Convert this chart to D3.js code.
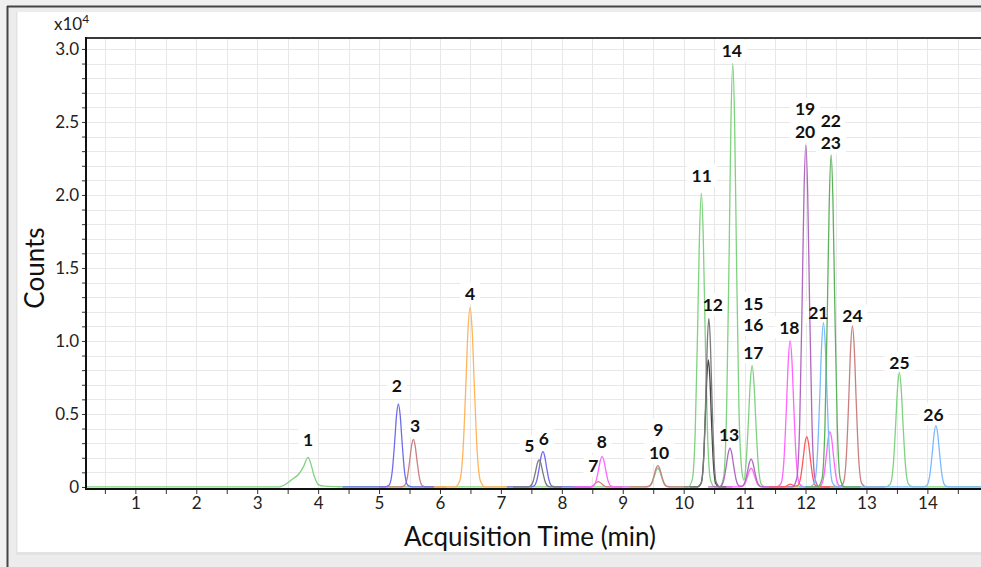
<!DOCTYPE html>
<html><head><meta charset="utf-8">
<script src="https://cdn.jsdelivr.net/npm/d3@7"></script>
<style>body{margin:0;background:#f0f0f0;overflow:hidden}svg{display:block}</style>
</head><body><svg id="c" width="981" height="567"></svg>
<script>
// ---------- data ----------
const xDomain = [0.19, 14.88];
const yDomain = [-140, 30750];
const xTickValues = d3.range(1, 30).map(i => i * 0.5);          // 0.5 .. 14.5
const xTickLabels = [1,2,3,4,5,6,7,8,9,10,11,12,13,14];
const yTickValues = d3.range(0, 31).map(i => i * 1000);          // 0 .. 30000
const yTickLabels = ["0","0.5","1.0","1.5","2.0","2.5","3.0"];
const yLabelledValues = [0,5000,10000,15000,20000,25000,30000];

// traces: segments of [time(min), counts]
const lightGreen = [[
 [0.19,0],[3.35,0],[3.49,250],[3.60,600],[3.68,870],[3.76,1390],[3.835,2030],[3.88,1600],[3.93,820],[4.01,140],[4.10,50],[4.35,15],[4.45,0],
 [9.356,0],[9.426,31],[9.476,246],[9.516,705],[9.546,1103],[9.576,1280],[9.606,1103],[9.636,705],[9.676,246],[9.726,31],[9.796,0],
 [10.07,0],[10.14,483],[10.19,3862],[10.23,11083],[10.26,17339],[10.29,20115],[10.32,17339],[10.35,11083],[10.39,3862],[10.44,483],[10.51,0],
 [10.586,0],[10.656,696],[10.706,5572],[10.746,15990],[10.776,25015],[10.806,29020],[10.836,25015],[10.866,15990],[10.906,5572],[10.956,1050],[10.99,470],
 [11.023,1600],[11.063,4580],[11.093,7160],[11.123,8310],[11.153,7160],[11.183,4580],[11.223,1600],[11.273,200],[11.343,0],
 [13.32,0],[13.39,188],[13.44,1503],[13.48,4314],[13.51,6749],[13.54,7830],[13.57,6749],[13.60,4314],[13.64,1503],[13.69,188],[13.76,0],[14.88,0]
]];
const brown = [
 [[5.0,0],[5.343,0],[5.413,78],[5.463,627],[5.503,1799],[5.533,2814],[5.563,3265],[5.593,2814],[5.623,1799],[5.663,627],[5.713,78],[5.783,0],[6.1,0]],
 [[8.2,0],[8.38,0],[8.45,9],[8.50,69],[8.54,198],[8.57,310],[8.60,360],[8.63,310],[8.66,198],[8.70,69],[8.75,9],[8.82,0],[9.0,0]],
 [[9.1,0],[9.356,0],[9.426,35],[9.476,280],[9.516,804],[9.546,1259],[9.576,1460],[9.606,1259],[9.636,804],[9.676,280],[9.726,35],[9.796,0],[10.0,0]],
 [[12.3,0],[12.55,0],[12.62,265],[12.67,2118],[12.71,6078],[12.74,9508],[12.77,11030],[12.80,9508],[12.83,6078],[12.87,2118],[12.92,265],[12.99,0],[13.3,0]]
];
const blue = [
 [[4.4,0],[5.097,0],[5.167,136],[5.217,1092],[5.257,3132],[5.287,4900],[5.317,5685],[5.347,4900],[5.377,3132],[5.417,1092],[5.467,136],[5.537,0],[5.9,0]],
 [[7.1,0],[7.47,0],[7.54,58],[7.59,465],[7.63,1333],[7.66,2086],[7.69,2420],[7.72,2086],[7.75,1333],[7.79,465],[7.84,58],[7.91,0],[8.5,0]]
];
const orange = [
 [[5.9,0],[6.244,0],[6.324,406],[6.379,2573],[6.424,6894],[6.459,10648],[6.494,12310],[6.529,10648],[6.564,6894],[6.609,2573],[6.664,406],[6.744,0],[7.1,0]]
];
const gray = [
 [[7.2,0],[7.407,0],[7.477,44],[7.527,355],[7.567,1019],[7.597,1595],[7.627,1850],[7.657,1595],[7.687,1019],[7.727,355],[7.777,44],[7.847,0],[8.0,0]],
 [[10.0,0],[10.233,0],[10.293,335],[10.333,2379],[10.363,6237],[10.388,9898],[10.413,11550],[10.438,9898],[10.463,6237],[10.493,2379],[10.533,335],[10.593,0],[10.8,0]]
];
const black = [
 [[10.1,0],[10.225,0],[10.285,252],[10.325,1792],[10.355,4698],[10.38,7456],[10.405,8700],[10.43,7456],[10.455,4698],[10.485,1792],[10.525,252],[10.585,0],[10.7,0]]
];
const magenta = [
 [[8.2,0],[8.441,0],[8.511,50],[8.561,399],[8.601,1146],[8.631,1793],[8.661,2080],[8.691,1793],[8.721,1146],[8.761,399],[8.811,50],[8.881,0],[9.1,0]],
 [[10.7,0],[10.887,0],[10.957,31],[11.007,246],[11.047,705],[11.077,1103],[11.107,1280],[11.137,1103],[11.167,705],[11.207,246],[11.257,31],[11.327,0],
  [11.527,0],[11.597,240],[11.647,1924],[11.687,5521],[11.717,8637],[11.747,10020],[11.777,8637],[11.807,5521],[11.847,1924],[11.897,240],[11.967,0],
  [12.18,0],[12.25,91],[12.30,728],[12.34,2088],[12.37,3267],[12.40,3790],[12.43,3267],[12.46,2088],[12.50,728],[12.55,91],[12.62,0],[12.9,0]]
];
const purple = [
 [[10.4,0],[10.54,0],[10.61,64],[10.66,509],[10.70,1460],[10.73,2284],[10.76,2650],[10.79,2284],[10.82,1460],[10.86,509],[10.91,70],[10.957,55],
  [11.007,365],[11.047,1047],[11.077,1638],[11.107,1900],[11.137,1638],[11.167,1047],[11.207,365],[11.257,46],[11.327,0],
  [11.785,0],[11.855,562],[11.905,4498],[11.945,12907],[11.975,20192],[12.005,23425],[12.035,20192],[12.065,12907],[12.105,4498],[12.155,562],[12.225,0],[12.4,0]]
];
const red = [
 [[11.4,0],[11.6,0],[11.68,40],[11.72,150],[11.75,200],[11.78,150],[11.83,60],[11.87,90],[11.92,662],[11.96,1901],[11.99,2974],[12.02,3450],
  [12.05,2974],[12.08,1901],[12.12,662],[12.17,83],[12.24,0],[12.4,0]]
];
const darkGreen = [
 [[12.0,0],[12.20,0],[12.27,546],[12.32,4366],[12.36,12530],[12.39,19602],[12.42,22740],[12.45,19602],[12.48,12530],[12.52,4366],[12.57,546],[12.64,0],[12.9,0]]
];
const lightBlue = [
 [[11.9,0],[12.074,0],[12.144,270],[12.194,2160],[12.234,6199],[12.264,9698],[12.294,11250],[12.324,9698],[12.354,6199],[12.394,2160],[12.444,270],[12.514,0],
  [13.92,0],[13.99,101],[14.04,806],[14.08,2314],[14.11,3620],[14.14,4200],[14.17,3620],[14.20,2314],[14.24,806],[14.29,101],[14.36,0],[14.88,0]]
];

// peak labels: text, time, counts (anchor centre)
const peakLabels = ["1","2","3","4","5","6","7","8","9","10","11","12","13","14","15","16","17","18","19","20","21","22","23","24","25","26"];
const peakLabelTimes = [3.835,5.291,5.591,6.494,7.468,7.704,8.518,8.656,9.585,9.597,10.297,10.478,10.746,10.790,11.144,11.144,11.144,11.735,11.993,11.993,12.211,12.415,12.415,12.770,13.541,14.099];
const peakLabelCounts = [3219,6918,4178,13267,2808,3288,1438,3103,3952,2349,21322,12514,3610,29863,12582,11096,9226,10938,25938,24336,11966,25068,23582,11733,8541,4979];

// ---------- drawing ----------
const svg = d3.select("#c");
const L = 86, R = 981, T = 38, B = 489;
const x = d3.scaleLinear().domain(xDomain).range([L, R]);
const y = d3.scaleLinear().domain(yDomain).range([B, T]);
const font = "Lato, 'Open Sans', sans-serif";

// window frame
svg.append("rect").attr("x",0).attr("y",0).attr("width",981).attr("height",567).attr("fill","#f0f0f0");
svg.append("rect").attr("x",8).attr("y",7).attr("width",973).attr("height",560).attr("fill","#ececec");
svg.append("rect").attr("x",16).attr("y",12).attr("width",965).attr("height",543).attr("fill","#e2e2e2");
svg.append("rect").attr("x",17.5).attr("y",12).attr("width",964).attr("height",540).attr("fill","#ffffff");
svg.append("line").attr("x1",7.5).attr("x2",7.5).attr("y1",6).attr("y2",567).attr("stroke","#454545").attr("stroke-width",2);
svg.append("line").attr("x1",7).attr("x2",981).attr("y1",6.5).attr("y2",6.5).attr("stroke","#454545").attr("stroke-width",2);

// grid
const grid = svg.append("g").attr("stroke","#e8e8e8").attr("stroke-width",1);
grid.selectAll("line.v").data(xTickValues).join("line").attr("class","v")
  .attr("x1",d=>Math.round(x(d))+0.5).attr("x2",d=>Math.round(x(d))+0.5).attr("y1",T).attr("y2",B);
grid.selectAll("line.h").data(yTickValues.filter(d=>d>0)).join("line").attr("class","h")
  .attr("y1",d=>Math.round(y(d))+0.5).attr("y2",d=>Math.round(y(d))+0.5).attr("x1",L).attr("x2",R);

// label boxes (white, over grid)
const lab = peakLabels.map((t,i)=>({t, tm:peakLabelTimes[i], c:peakLabelCounts[i]}));
svg.append("g").selectAll("rect").data(lab).join("rect")
  .attr("x",d=>x(d.tm) - (d.t.length*10)/2 - 5).attr("y",d=>y(d.c)-11)
  .attr("width",d=>d.t.length*10+10).attr("height",22).attr("fill","#fff");

// traces
svg.append("clipPath").attr("id","clip").append("rect").attr("x",L).attr("y",T).attr("width",R-L).attr("height",B-T);
const line = d3.line().x(d=>x(d[0])).y(d=>y(d[1])).curve(d3.curveMonotoneX);
const traces = [
  {segs: lightGreen, color:"#7fd27f"},
  {segs: brown, color:"#c98080"},
  {segs: blue, color:"#6c6cee"},
  {segs: orange, color:"#ffb55c"},
  {segs: black, color:"#444444"},
  {segs: gray, color:"#7a7a7a"},
  {segs: magenta, color:"#ff66ff"},
  {segs: purple, color:"#b068c0"},
  {segs: red, color:"#ff5a5a"},
  {segs: lightBlue, color:"#7db9ff"},
  {segs: darkGreen, color:"#5cb25c"}
];
const tg = svg.append("g").attr("clip-path","url(#clip)");
traces.forEach(tr => {
  tg.append("g").selectAll("path").data(tr.segs).join("path")
    .attr("d", line).attr("fill","none").attr("stroke", tr.color).attr("stroke-width",1.3);
});

// peak label texts
svg.append("g").selectAll("text").data(lab).join("text")
  .attr("x",d=>x(d.tm)).attr("y",d=>y(d.c)).attr("dy","0.36em")
  .attr("text-anchor","middle").attr("font-family",font).attr("font-weight","bold")
  .attr("font-size",17.5).attr("fill","#111").text(d=>d.t);

// axes
const xAxis = d3.axisBottom(x).tickValues(xTickValues).tickSize(5).tickSizeOuter(0)
  .tickFormat(d => xTickLabels.includes(d) ? String(d) : "");
const gx = svg.append("g").attr("transform",`translate(0,${B})`).call(xAxis);
gx.select(".domain").remove();
gx.selectAll(".tick line").attr("stroke","#333");
gx.selectAll("text").attr("font-family",font).attr("font-size",17).attr("fill","#222");

const yAxis = d3.axisLeft(y).tickValues(yTickValues).tickSize(4).tickSizeOuter(0)
  .tickFormat(d => { const k = yLabelledValues.indexOf(d); return k >= 0 ? yTickLabels[k] : ""; });
const gy = svg.append("g").attr("transform",`translate(${L},0)`).call(yAxis);
gy.select(".domain").remove();
gy.selectAll(".tick line").attr("stroke","#333");
gy.selectAll("text").attr("font-family",font).attr("font-size",17).attr("fill","#222");

// frame lines
svg.append("line").attr("x1",L).attr("x2",R).attr("y1",T).attr("y2",T).attr("stroke","#3a3a3a").attr("stroke-width",2);
svg.append("line").attr("x1",L).attr("x2",L).attr("y1",T-1).attr("y2",B+1).attr("stroke","#111").attr("stroke-width",2);
svg.append("line").attr("x1",L-1).attr("x2",R).attr("y1",B).attr("y2",B).attr("stroke","#111").attr("stroke-width",2);

// multiplier
const mult = svg.append("text").attr("x",54).attr("y",30).attr("font-family",font).attr("font-size",17).attr("fill","#222");
mult.append("tspan").text("x10");
mult.append("tspan").attr("dy",-7).attr("font-size",12).text("4");

// axis titles
svg.append("text").attr("x",530).attr("y",546).attr("text-anchor","middle")
  .attr("font-family",font).attr("font-size",26).attr("fill","#111").text("Acquisition Time (min)");
svg.append("text").attr("transform","translate(44,268) rotate(-90)").attr("text-anchor","middle")
  .attr("font-family",font).attr("font-size",26).attr("fill","#111").text("Counts");
</script></body></html>
